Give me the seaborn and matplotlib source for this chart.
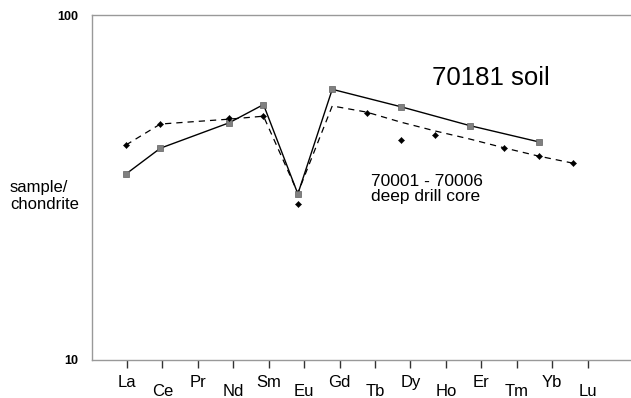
import numpy as np
import pandas as pd
import seaborn as sns
import matplotlib.pyplot as plt

# REE order (La = 1 ... Lu = 14)
elements = ['La', 'Ce', 'Pr', 'Nd', 'Sm', 'Eu', 'Gd', 'Tb', 'Dy', 'Ho', 'Er', 'Tm', 'Yb', 'Lu']

# 70181 soil (solid line, grey squares)
soil_el = ['La', 'Ce', 'Nd', 'Sm', 'Eu', 'Gd', 'Dy', 'Er', 'Yb']
soil_val = [34.6, 41.1, 48.7, 55.0, 30.3, 60.9, 54.2, 47.8, 42.9]

# 70001-70006 deep drill core (black diamonds)
core_el = ['La', 'Ce', 'Nd', 'Sm', 'Eu', 'Tb', 'Dy', 'Ho', 'Tm', 'Yb', 'Lu']
core_val = [42.1, 48.3, 50.4, 50.9, 28.3, 51.9, 43.3, 44.9, 41.2, 39.0, 37.2]

# dashed trend of drill core
trend_el = ['La', 'Ce', 'Nd', 'Sm', 'Eu', 'Gd', 'Tb', 'Dy', 'Ho', 'Er', 'Tm', 'Yb', 'Lu']
trend_val = [42.0, 48.3, 49.9, 50.9, 30.5, 54.5, 52.3, 48.9, 46.1, 43.7, 41.2, 39.0, 37.2]

pos = {e: i + 1 for i, e in enumerate(elements)}
soil = pd.DataFrame({'x': [pos[e] for e in soil_el], 'y': soil_val})
core = pd.DataFrame({'x': [pos[e] for e in core_el], 'y': core_val})
trend = pd.DataFrame({'x': [pos[e] for e in trend_el], 'y': trend_val})

sns.set_style('white')
plt.rcParams['font.family'] = ['Liberation Sans', 'DejaVu Sans']
plt.rcParams['text.color'] = 'black'
plt.rcParams['xtick.color'] = 'black'
plt.rcParams['ytick.color'] = 'black'

fig = plt.figure(figsize=(6.31, 3.98), dpi=100)
ax = fig.add_axes([92 / 631, 38 / 398, 539 / 631, 345 / 398])

sns.lineplot(data=trend, x='x', y='y', ax=ax, color='black', lw=0.9,
             dashes=False, linestyle=(0, (5, 4)), sort=False)
sns.lineplot(data=soil, x='x', y='y', ax=ax, color='black', lw=1.0, sort=False)
sns.scatterplot(data=soil, x='x', y='y', ax=ax, marker='s', s=22,
                color='#808080', edgecolor='#606060', linewidth=0.5, zorder=5)
sns.scatterplot(data=core, x='x', y='y', ax=ax, marker='D', s=10,
                color='black', edgecolor='black', linewidth=0.3, zorder=5)

ax.set_yscale('log')
ax.set_ylim(10, 100)
ax.set_xlim(0.012, 15.69)
ax.set_yticks([10, 100])
ax.set_yticklabels(['10', '100'], fontweight='bold', fontsize=9)
ax.yaxis.set_minor_locator(plt.NullLocator())
ax.tick_params(axis='y', length=0, pad=10)

# staggered element labels
ticks = np.linspace(1.03, 14.43, len(elements))
ax.set_xticks(ticks[0::2])
ax.set_xticklabels(elements[0::2], fontsize=12)
ax.set_xticks(ticks[1::2], minor=True)
ax.set_xticklabels(elements[1::2], minor=True, fontsize=12)
ax.tick_params(axis='x', which='major', length=6, width=1, color='#333333',
               pad=4.5, bottom=True, direction='out')
ax.tick_params(axis='x', which='minor', length=6, width=1, color='#333333',
               pad=11, bottom=True, direction='out')
ax.set_xlabel('')
ax.set_ylabel('')

for side in ['left', 'top', 'bottom']:
    ax.spines[side].set_color('#999999')
    ax.spines[side].set_linewidth(1)
ax.spines['right'].set_visible(False)

fig.text(10 / 631, 1 - 196 / 398, 'sample/\nchondrite', fontsize=12,
         va='center', ha='left', linespacing=1.1)
fig.text(432 / 631, 1 - 78 / 398, '70181 soil', fontsize=18.5,
         va='center', ha='left')
ax.text(0.5176, 0.4957, '70001 - 70006\ndeep drill core', fontsize=12.5,
        va='center', ha='left', transform=ax.transAxes, linespacing=1.0)

fig.savefig('out.png', dpi=100)
